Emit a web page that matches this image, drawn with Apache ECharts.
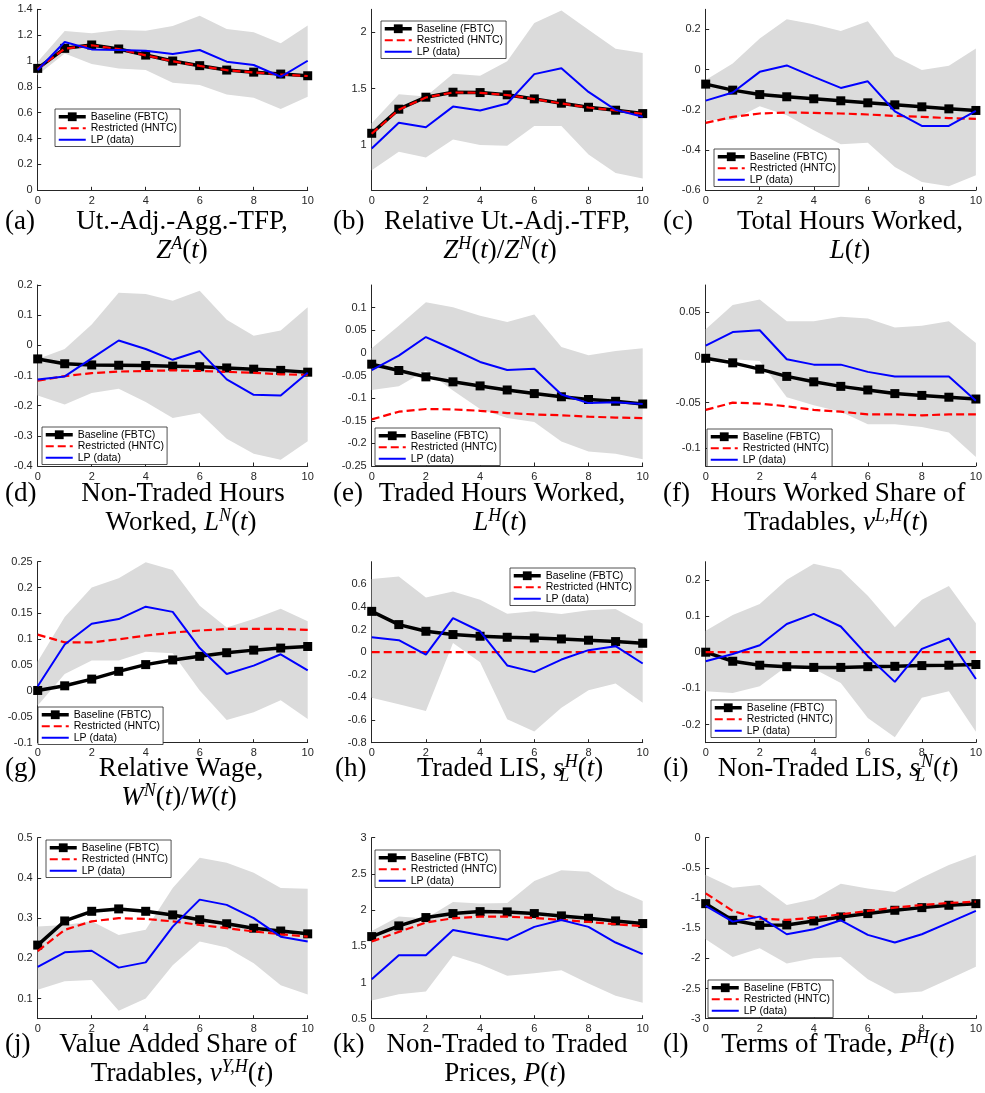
<!DOCTYPE html>
<html>
<head>
<meta charset="utf-8">
<script src="https://cdn.jsdelivr.net/npm/echarts@6/dist/echarts.min.js"></script>
<style>
  html, body { margin: 0; padding: 0; background: #fff; }
  #chart { width: 985px; height: 1093px; }
</style>
</head>
<body>
<div id="chart"></div>
<script>
// horizon (years after the shock)
const horizon = ["0", "1", "2", "3", "4", "5", "6", "7", "8", "9", "10"];
const names = ["Baseline (FBTC)", "Restricted (HNTC)", "LP (data)"];

// (a) Ut.-Adj.-Agg.-TFP
const aBase = [0.943, 1.098, 1.124, 1.093, 1.046, 1.0, 0.964, 0.93, 0.914, 0.899, 0.886];
const aRestr = [0.94, 1.095, 1.122, 1.092, 1.044, 0.998, 0.962, 0.929, 0.912, 0.897, 0.884];
const aLP = [0.93, 1.147, 1.09, 1.085, 1.08, 1.054, 1.085, 0.995, 0.969, 0.878, 1.002];
const aUp = [0.995, 1.232, 1.214, 1.24, 1.235, 1.27, 1.351, 1.248, 1.222, 1.137, 1.274];
const aLo = [0.891, 1.059, 0.976, 0.943, 0.93, 0.832, 0.814, 0.741, 0.716, 0.628, 0.723];
const aTicks = [0, 0.2, 0.4, 0.6, 0.8, 1, 1.2, 1.4];

// (b) Relative Ut.-Adj.-TFP
const bBase = [1.104, 1.317, 1.423, 1.467, 1.464, 1.444, 1.408, 1.37, 1.334, 1.308, 1.278];
const bRestr = [1.1, 1.313, 1.42, 1.465, 1.462, 1.442, 1.406, 1.368, 1.332, 1.306, 1.276];
const bLP = [0.97, 1.198, 1.157, 1.34, 1.305, 1.367, 1.627, 1.678, 1.47, 1.311, 1.251];
const bUp = [1.192, 1.45, 1.429, 1.63, 1.612, 1.74, 2.08, 2.19, 2.02, 1.852, 1.814];
const bLo = [0.778, 0.941, 0.89, 1.05, 1.0, 0.994, 1.169, 1.169, 0.917, 0.754, 0.704];
const bTicks = [1, 1.5, 2];

// (c) Total Hours Worked
const cBase = [-0.072, -0.102, -0.124, -0.135, -0.145, -0.155, -0.165, -0.175, -0.185, -0.195, -0.203];
const cRestr = [-0.265, -0.235, -0.218, -0.213, -0.215, -0.218, -0.223, -0.23, -0.235, -0.241, -0.245];
const cLP = [-0.154, -0.114, -0.011, 0.021, -0.036, -0.091, -0.058, -0.207, -0.28, -0.28, -0.205];
const cUp = [-0.052, 0.031, 0.155, 0.251, 0.226, 0.192, 0.241, 0.067, -0.002, 0.019, 0.105];
const cLo = [-0.251, -0.251, -0.182, -0.227, -0.301, -0.371, -0.363, -0.484, -0.559, -0.58, -0.525];
const cTicks = [-0.6, -0.4, -0.2, 0, 0.2];

// (d) Non-Traded Hours Worked
const dBase = [-0.045, -0.061, -0.065, -0.066, -0.067, -0.069, -0.071, -0.075, -0.079, -0.083, -0.089];
const dRestr = [-0.117, -0.102, -0.092, -0.087, -0.085, -0.083, -0.085, -0.088, -0.091, -0.096, -0.098];
const dLP = [-0.113, -0.103, -0.043, 0.016, -0.012, -0.048, -0.019, -0.113, -0.164, -0.166, -0.091];
const dUp = [-0.045, -0.012, 0.069, 0.174, 0.17, 0.148, 0.181, 0.085, 0.032, 0.049, 0.126];
const dLo = [-0.166, -0.196, -0.158, -0.144, -0.188, -0.241, -0.224, -0.31, -0.359, -0.379, -0.318];
const dTicks = [-0.4, -0.3, -0.2, -0.1, 0, 0.1, 0.2];

// (e) Traded Hours Worked
const eBase = [-0.025, -0.039, -0.053, -0.064, -0.073, -0.082, -0.09, -0.097, -0.103, -0.107, -0.113];
const eRestr = [-0.147, -0.13, -0.124, -0.125, -0.128, -0.133, -0.136, -0.138, -0.141, -0.143, -0.144];
const eLP = [-0.038, -0.006, 0.035, 0.008, -0.02, -0.038, -0.035, -0.092, -0.111, -0.109, -0.113];
const eUp = [0.01, 0.06, 0.112, 0.101, 0.082, 0.068, 0.085, 0.013, -0.005, 0.004, 0.01];
const eLo = [-0.082, -0.074, -0.039, -0.083, -0.124, -0.144, -0.153, -0.196, -0.218, -0.223, -0.235];
const eTicks = [-0.25, -0.2, -0.15, -0.1, -0.05, 0, 0.05, 0.1];

// (f) Hours Worked Share of Tradables
const fBase = [-0.001, -0.006, -0.013, -0.021, -0.027, -0.032, -0.036, -0.04, -0.042, -0.044, -0.046];
const fRestr = [-0.058, -0.05, -0.051, -0.054, -0.058, -0.06, -0.063, -0.063, -0.064, -0.063, -0.063];
const fLP = [0.013, 0.028, 0.03, -0.002, -0.008, -0.008, -0.016, -0.021, -0.021, -0.021, -0.048];
const fUp = [0.031, 0.058, 0.064, 0.04, 0.04, 0.045, 0.043, 0.033, 0.035, 0.04, 0.016];
const fLo = [-0.002, -0.002, -0.004, -0.044, -0.053, -0.06, -0.074, -0.074, -0.077, -0.083, -0.11];
const fTicks = [-0.1, -0.05, 0, 0.05];

// (g) Relative Wage
const gBase = [0.001, 0.01, 0.023, 0.038, 0.051, 0.06, 0.067, 0.074, 0.079, 0.083, 0.086];
const gRestr = [0.109, 0.094, 0.094, 0.1, 0.107, 0.113, 0.117, 0.12, 0.12, 0.12, 0.118];
const gLP = [0.009, 0.09, 0.13, 0.139, 0.163, 0.153, 0.083, 0.033, 0.049, 0.071, 0.04];
const gUp = [0.057, 0.143, 0.2, 0.218, 0.249, 0.234, 0.165, 0.123, 0.139, 0.159, 0.135];
const gLo = [-0.028, 0.033, 0.059, 0.059, 0.076, 0.073, 0.001, -0.056, -0.041, -0.018, -0.054];
const gTicks = [-0.1, -0.05, 0, 0.05, 0.1, 0.15, 0.2, 0.25];

// (h) Traded LIS
const hBase = [0.361, 0.244, 0.185, 0.156, 0.141, 0.132, 0.126, 0.117, 0.106, 0.094, 0.079];
const hRestr = [0, 0, 0, 0, 0, 0, 0, 0, 0, 0, 0];
const hLP = [0.132, 0.106, -0.021, 0.302, 0.185, -0.117, -0.176, -0.065, 0.018, 0.053, -0.1];
const hUp = [0.648, 0.669, 0.484, 0.537, 0.464, 0.34, 0.361, 0.337, 0.37, 0.381, 0.252];
const hLo = [-0.402, -0.461, -0.519, 0.082, -0.088, -0.593, -0.7, -0.49, -0.337, -0.276, -0.446];
const hTicks = [-0.8, -0.6, -0.4, -0.2, 0, 0.2, 0.4, 0.6];

// (i) Non-Traded LIS
const iBase = [0, -0.025, -0.036, -0.04, -0.042, -0.042, -0.04, -0.039, -0.037, -0.036, -0.034];
const iRestr = [0, 0, 0, 0, 0, 0, 0, 0, 0, 0, 0];
const iLP = [-0.025, -0.005, 0.019, 0.078, 0.106, 0.071, -0.011, -0.082, 0.009, 0.038, -0.074];
const iUp = [0.059, 0.103, 0.133, 0.2, 0.244, 0.228, 0.156, 0.069, 0.145, 0.183, 0.08];
const iLo = [-0.108, -0.113, -0.094, -0.039, -0.046, -0.085, -0.182, -0.235, -0.126, -0.108, -0.22];
const iTicks = [-0.2, -0.1, 0, 0.1, 0.2];

// (j) Value Added Share of Tradables
const jBase = [0.233, 0.293, 0.317, 0.323, 0.317, 0.308, 0.296, 0.286, 0.275, 0.268, 0.261];
const jRestr = [0.218, 0.271, 0.292, 0.3, 0.298, 0.292, 0.283, 0.275, 0.267, 0.26, 0.254];
const jLP = [0.179, 0.215, 0.219, 0.177, 0.19, 0.279, 0.346, 0.333, 0.3, 0.254, 0.242];
const jUp = [0.279, 0.283, 0.292, 0.258, 0.271, 0.375, 0.45, 0.438, 0.413, 0.375, 0.373];
const jLo = [0.122, 0.143, 0.146, 0.07, 0.1, 0.183, 0.242, 0.227, 0.188, 0.133, 0.11];
const jTicks = [0.1, 0.2, 0.3, 0.4, 0.5];

// (k) Non-Traded to Traded Prices
const kBase = [1.634, 1.782, 1.897, 1.952, 1.979, 1.975, 1.952, 1.92, 1.887, 1.851, 1.814];
const kRestr = [1.566, 1.699, 1.828, 1.887, 1.91, 1.91, 1.892, 1.864, 1.837, 1.805, 1.777];
const kLP = [1.046, 1.377, 1.377, 1.726, 1.657, 1.589, 1.768, 1.864, 1.768, 1.552, 1.391];
const kUp = [1.713, 1.91, 1.883, 2.113, 2.09, 2.099, 2.402, 2.549, 2.531, 2.287, 2.126];
const kLo = [0.75, 0.839, 0.876, 1.368, 1.253, 1.092, 1.129, 1.17, 0.986, 0.816, 0.72];
const kTicks = [0.5, 1, 1.5, 2, 2.5, 3];

// (l) Terms of Trade
const lBase = [-1.093, -1.369, -1.451, -1.446, -1.38, -1.313, -1.258, -1.203, -1.159, -1.12, -1.093];
const lRestr = [-0.922, -1.214, -1.341, -1.363, -1.325, -1.269, -1.214, -1.159, -1.115, -1.082, -1.06];
const lLP = [-1.131, -1.391, -1.308, -1.6, -1.518, -1.369, -1.611, -1.738, -1.6, -1.407, -1.214];
const lUp = [-0.618, -0.828, -0.784, -1.115, -1.021, -0.762, -0.844, -0.9, -0.662, -0.453, -0.287];
const lLo = [-1.683, -1.976, -1.832, -2.086, -1.998, -1.976, -2.345, -2.583, -2.55, -2.345, -2.141];
const lTicks = [-3, -2.5, -2, -1.5, -1, -0.5, 0];

const panels = [
  { base: aBase, restr: aRestr, lp: aLP, up: aUp, lo: aLo, min: 0, max: 1.4, ticks: aTicks },
  { base: bBase, restr: bRestr, lp: bLP, up: bUp, lo: bLo, min: 0.6, max: 2.2, ticks: bTicks },
  { base: cBase, restr: cRestr, lp: cLP, up: cUp, lo: cLo, min: -0.6, max: 0.3, ticks: cTicks },
  { base: dBase, restr: dRestr, lp: dLP, up: dUp, lo: dLo, min: -0.4, max: 0.2, ticks: dTicks },
  { base: eBase, restr: eRestr, lp: eLP, up: eUp, lo: eLo, min: -0.25, max: 0.15, ticks: eTicks },
  { base: fBase, restr: fRestr, lp: fLP, up: fUp, lo: fLo, min: -0.12, max: 0.08, ticks: fTicks },
  { base: gBase, restr: gRestr, lp: gLP, up: gUp, lo: gLo, min: -0.1, max: 0.25, ticks: gTicks },
  { base: hBase, restr: hRestr, lp: hLP, up: hUp, lo: hLo, min: -0.8, max: 0.8, ticks: hTicks },
  { base: iBase, restr: iRestr, lp: iLP, up: iUp, lo: iLo, min: -0.25, max: 0.25, ticks: iTicks },
  { base: jBase, restr: jRestr, lp: jLP, up: jUp, lo: jLo, min: 0.05, max: 0.5, ticks: jTicks },
  { base: kBase, restr: kRestr, lp: kLP, up: kUp, lo: kLo, min: 0.5, max: 3, ticks: kTicks },
  { base: lBase, restr: lRestr, lp: lLP, up: lUp, lo: lLo, min: -3, max: 0, ticks: lTicks },
];

// layout (pixels)
const colLeft = [37.7, 371.7, 705.7];
const colWidth = [270, 271, 271];
const rowTop = [9.3, 285, 561.7, 837.7];
const plotH = 181;
const legendPos = [
  [55, 109], [381, 21], [714, 149],
  [42, 427], [375, 428], [707, 429],
  [38, 707], [510, 568], [711, 700],
  [46, 840], [375, 850], [708, 980],
];

const axisColor = "#262626";
const sans = '"Liberation Sans", Arial, Helvetica, sans-serif';
const serif = '"Liberation Serif", "DejaVu Serif", serif';
const bandColor = "#dbdbdb";
const baseStyle = { color: "#000", width: 3.5 };
const restrStyle = { color: "#ff0000", width: 2.2, type: [8, 4] };
const lpStyle = { color: "#0000ff", width: 2 };

const grid = [], xAxis = [], yAxis = [], series = [], legend = [];

panels.forEach((p, i) => {
  const col = i % 3, row = Math.floor(i / 3);
  grid.push({ left: colLeft[col], top: rowTop[row], width: colWidth[col], height: plotH, containLabel: false });
  xAxis.push({
    type: "category", gridIndex: i, data: horizon, boundaryGap: false,
    axisLine: { onZero: false, lineStyle: { color: axisColor, width: 1 } },
    axisTick: { inside: true, length: 3.5, interval: 1, lineStyle: { color: axisColor } },
    axisLabel: { interval: 1, margin: 5, color: axisColor, fontSize: 11, fontFamily: sans },
    splitLine: { show: false },
  });
  yAxis.push({
    type: "value", gridIndex: i, min: p.min, max: p.max,
    axisLine: { show: true, onZero: false, lineStyle: { color: axisColor, width: 1 } },
    axisTick: { show: true, inside: true, length: 3.5, customValues: p.ticks, lineStyle: { color: axisColor } },
    axisLabel: {
      customValues: p.ticks, margin: 5, color: axisColor, fontSize: 11, fontFamily: sans,
      formatter: (v) => String(+(+v).toFixed(3)),
    },
    splitLine: { show: false },
  });
  // confidence band = lower line + stacked (upper - lower) area
  series.push({
    type: "line", xAxisIndex: i, yAxisIndex: i, data: p.lo, stack: "band" + i, stackStrategy: "all",
    symbol: "none", lineStyle: { width: 0, opacity: 0 }, silent: true, z: 1,
  });
  series.push({
    type: "line", xAxisIndex: i, yAxisIndex: i, data: p.up.map((v, k) => +(v - p.lo[k]).toFixed(4)),
    stack: "band" + i, stackStrategy: "all", symbol: "none",
    lineStyle: { width: 0, opacity: 0 }, areaStyle: { color: bandColor, opacity: 1 }, silent: true, z: 1,
  });
  series.push({
    name: names[0], type: "line", xAxisIndex: i, yAxisIndex: i, data: p.base,
    symbol: "rect", symbolSize: 9, showAllSymbol: true,
    lineStyle: baseStyle, itemStyle: { color: "#000" }, z: 3,
  });
  series.push({
    name: names[1], type: "line", xAxisIndex: i, yAxisIndex: i, data: p.restr, symbol: "none",
    lineStyle: restrStyle, itemStyle: { color: "#ff0000" }, z: 4,
  });
  series.push({
    name: names[2], type: "line", xAxisIndex: i, yAxisIndex: i, data: p.lp, symbol: "none",
    lineStyle: lpStyle, itemStyle: { color: "#0000ff" }, z: 5,
  });
  legend.push({
    left: legendPos[i][0], top: legendPos[i][1], orient: "vertical",
    data: [
      { name: names[0], lineStyle: baseStyle, itemStyle: { color: "#000" } },
      { name: names[1], lineStyle: restrStyle, itemStyle: { opacity: 0, color: "rgba(0,0,0,0)", borderWidth: 0 } },
      { name: names[2], lineStyle: lpStyle, itemStyle: { opacity: 0, color: "rgba(0,0,0,0)", borderWidth: 0 } },
    ],
    backgroundColor: "#fff", borderColor: axisColor, borderWidth: 0.8, borderRadius: 0,
    padding: [2, 3, 1, 2], itemGap: 0, itemWidth: 27, itemHeight: 11, selectedMode: false,
    textStyle: { fontSize: 10.5, fontFamily: sans, color: "#000", lineHeight: 11.5 }, z: 10,
  });
});

// captions under each panel
const rich = {
  r: { fontFamily: serif, fontSize: 27, lineHeight: 32, fill: "#000" },
  i: { fontFamily: serif, fontSize: 27, fontStyle: "italic", lineHeight: 32, fill: "#000" },
  p: { fontFamily: serif, fontSize: 18, fontStyle: "italic", lineHeight: 18, verticalAlign: "top", fill: "#000" },
  bz: { fontFamily: serif, fontSize: 18, fontStyle: "italic", lineHeight: 18, verticalAlign: "bottom", width: 1, fill: "#000" },
};
const L1 = [222, 494, 769, 1045];
const L2 = [251, 523, 798, 1074];
const captions = [
  ["{r|(a)}", 5, L1[0], "left"], ["{r|Ut.-Adj.-Agg.-TFP,}", 182, L1[0], "center"],
  ["{i|Z}{p|A}{r|(}{i|t}{r|)}", 182, L2[0], "center"],
  ["{r|(b)}", 333, L1[0], "left"], ["{r|Relative Ut.-Adj.-TFP,}", 507, L1[0], "center"],
  ["{i|Z}{p|H}{r|(}{i|t}{r|)/}{i|Z}{p|N}{r|(}{i|t}{r|)}", 500, L2[0], "center"],
  ["{r|(c)}", 663, L1[0], "left"], ["{r|Total Hours Worked,}", 850, L1[0], "center"],
  ["{i|L}{r|(}{i|t}{r|)}", 850, L2[0], "center"],
  ["{r|(d)}", 5, L1[1], "left"], ["{r|Non-Traded Hours}", 183, L1[1], "center"],
  ["{r|Worked, }{i|L}{p|N}{r|(}{i|t}{r|)}", 181, L2[1], "center"],
  ["{r|(e)}", 333, L1[1], "left"], ["{r|Traded Hours Worked,}", 502, L1[1], "center"],
  ["{i|L}{p|H}{r|(}{i|t}{r|)}", 500, L2[1], "center"],
  ["{r|(f)}", 663, L1[1], "left"], ["{r|Hours Worked Share of}", 838, L1[1], "center"],
  ["{r|Tradables, }{i|ν}{p|L,H}{r|(}{i|t}{r|)}", 836, L2[1], "center"],
  ["{r|(g)}", 5, L1[2], "left"], ["{r|Relative Wage,}", 181, L1[2], "center"],
  ["{i|W}{p|N}{r|(}{i|t}{r|)/}{i|W}{r|(}{i|t}{r|)}", 179, L2[2], "center"],
  ["{r|(h)}", 335, L1[2], "left"], ["{r|Traded LIS, }{i|s}{bz|L}{p|H}{r|(}{i|t}{r|)}", 510, L1[2], "center"],
  ["{r|(i)}", 663, L1[2], "left"], ["{r|Non-Traded LIS, }{i|s}{bz|L}{p|N}{r|(}{i|t}{r|)}", 838, L1[2], "center"],
  ["{r|(j)}", 5, L1[3], "left"], ["{r|Value Added Share of}", 178, L1[3], "center"],
  ["{r|Tradables, }{i|ν}{p|Y,H}{r|(}{i|t}{r|)}", 182, L2[3], "center"],
  ["{r|(k)}", 333, L1[3], "left"], ["{r|Non-Traded to Traded}", 507, L1[3], "center"],
  ["{r|Prices, }{i|P}{r|(}{i|t}{r|)}", 505, L2[3], "center"],
  ["{r|(l)}", 663, L1[3], "left"], ["{r|Terms of Trade, }{i|P}{p|H}{r|(}{i|t}{r|)}", 838, L1[3], "center"],
];
const graphic = captions.map(([text, x, y, align]) => ({
  type: "text", x: x, y: y, silent: true,
  style: { text: text, rich: rich, align: align, verticalAlign: "middle", font: "27px " + serif, fill: "#000" },
}));

const chart = echarts.init(document.getElementById("chart"));
chart.setOption({
  animation: false,
  backgroundColor: "#fff",
  grid, xAxis, yAxis, series, legend, graphic,
});
</script>
</body>
</html>
